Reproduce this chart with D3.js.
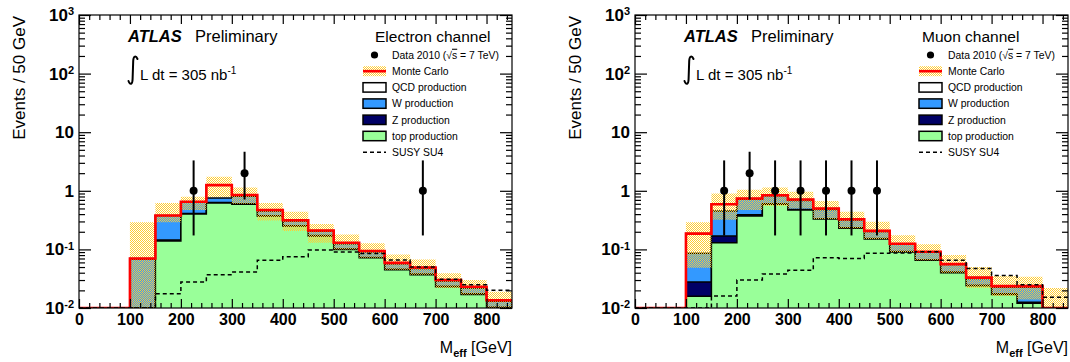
<!DOCTYPE html>
<html><head><meta charset="utf-8">
<script src="https://cdn.jsdelivr.net/npm/d3@7"></script>
<style>
body{margin:0;background:#fff}
svg{display:block}
text{font-family:"Liberation Sans",Arial,Helvetica,sans-serif;fill:#000}
</style>
</head><body>
<svg id="c" width="1070" height="362"></svg>
<script>
// ---------- data ----------
const binLow = [0,50,100,150,200,250,300,350,400,450,500,550,600,650,700,750,800];
const xMax = 850;
const xTickLabels = [0,100,200,300,400,500,600,700,800];
const yMajor = [0.01,0.1,1,10,100,1000];

// Electron channel
const eTop  = [0,0,0.004,0.139,0.40,0.62,0.59,0.37,0.25,0.17,0.10,0.072,0.045,0.037,0.023,0.017,0.010];
const eZ    = [0,0,0.001,0.005,0.01,0.01,0.01,0.005,0.004,0.003,0.002,0.001,0.001,0.001,0.0005,0.0005,0.0003];
const eW    = [0,0,0.063,0.231,0.23,0.12,0.21,0.075,0.051,0.032,0.023,0.018,0.011,0.009,0.0055,0.0045,0.0028];
const eQCD  = [0,0,0.002,0.005,0.01,0.50,0.04,0.02,0.01,0.005,0.005,0.003,0.002,0.002,0.001,0.001,0.0005];
const eBandLo = [0,0,0.005,0.29,0.47,0.78,0.60,0.31,0.206,0.13,0.10,0.072,0.045,0.037,0.022,0.017,0.009];
const eBandHi = [0,0,0.29,0.62,0.79,1.74,1.14,0.62,0.44,0.27,0.18,0.127,0.082,0.067,0.039,0.030,0.019];
const eSusy = [0,0,0.006,0.0175,0.0277,0.037,0.041,0.065,0.075,0.098,0.090,0.085,0.066,0.050,0.031,0.025,0.020];
const eDataX = [225,325,675];
const eDataY = [1,2,1];
const eDataLo = [0.827,1.29,0.827];
const eDataHi = [2.30,2.64,2.30];

// Muon channel
const mTop  = [0,0,0.0159,0.13,0.37,0.59,0.47,0.33,0.23,0.15,0.09,0.065,0.040,0.024,0.017,0.012,0.006];
const mZ    = [0,0,0.0118,0.04,0.02,0.01,0.01,0.005,0.004,0.003,0.002,0.001,0.001,0.0005,0.0005,0.0005,0.0002];
const mW    = [0,0,0.0583,0.28,0.33,0.22,0.20,0.145,0.083,0.049,0.03,0.023,0.014,0.0075,0.0051,0.0101,0.0015];
const mQCD  = [0,0,0.10,0.14,0.02,0.02,0.03,0.02,0.01,0.005,0.003,0.002,0.001,0.001,0.001,0.001,0.0003];
const mBandLo = [0,0,0.0486,0.32,0.47,0.55,0.50,0.33,0.23,0.15,0.09,0.065,0.040,0.022,0.016,0.014,0.004];
const mBandHi = [0,0,0.29,0.90,1.04,1.14,0.96,0.67,0.44,0.295,0.174,0.122,0.08,0.05,0.035,0.034,0.022];
const mSusy = [0,0,0.006,0.016,0.030,0.038,0.044,0.072,0.070,0.086,0.087,0.091,0.065,0.047,0.036,0.025,0.0153];
const mDataX = [175,225,275,325,375,425,475];
const mDataY = [1,2,1,1,1,1,1];
const mDataLo = [0.827,1.29,0.827,0.827,0.827,0.827,0.827];
const mDataHi = [2.30,2.64,2.30,2.30,2.30,2.30,2.30];

const legendLabels = ["Data 2010","Monte Carlo","QCD production","W production","Z production","top production","SUSY SU4"];
const colors = {qcd:"#ffffff", w:"#3399ff", z:"#000066", top:"#99ff99", band:"#ffcc33", mc:"#ff0000"};

// ---------- drawing ----------
const svg = d3.select("#c");
const defs = svg.append("defs");
const pat = defs.append("pattern").attr("id","hatch").attr("patternUnits","userSpaceOnUse")
  .attr("width",2).attr("height",2);
pat.append("rect").attr("x",0).attr("y",0).attr("width",1).attr("height",1).attr("fill",colors.band);
pat.append("rect").attr("x",1).attr("y",1).attr("width",1).attr("height",1).attr("fill",colors.band);

const Y0 = 15, Y1 = 308;

function drawPanel(p){
  const g = svg.append("g");
  const x = d3.scaleLinear().domain([0,xMax]).range([p.x0,p.x1]);
  const y = d3.scaleLog().domain([0.01,1000]).range([Y1,Y0]).clamp(true);
  const yv = v => y(Math.max(v,1e-5));
  const clipId = "clip"+p.id;
  defs.append("clipPath").attr("id",clipId).append("rect")
    .attr("x",p.x0).attr("y",Y0).attr("width",p.x1-p.x0).attr("height",Y1-Y0);
  const pg = g.append("g").attr("clip-path",`url(#${clipId})`);
  const steps = arr => binLow.map((b,i)=>[b,arr[i]]).concat([[xMax,arr[arr.length-1]]]);

  const c1 = p.top;
  const c2 = c1.map((v,i)=>v+p.z[i]);
  const c3 = c2.map((v,i)=>v+p.w[i]);
  const c4 = c3.map((v,i)=>v+p.qcd[i]);

  const area = d3.area().curve(d3.curveStepAfter).x(d=>x(d[0])).y0(Y1+3).y1(d=>yv(d[1]));
  [[c4,colors.qcd],[c3,colors.w],[c2,colors.z],[c1,colors.top]].forEach(([c,col])=>{
    pg.append("path").datum(steps(c)).attr("d",area).attr("fill",col)
      .attr("stroke","#000").attr("stroke-width",1.5);
  });

  const band = d3.area().curve(d3.curveStepAfter).x(d=>x(d[0])).y0(d=>yv(d[1])).y1(d=>yv(d[2]));
  const bd = binLow.map((b,i)=>[b,p.lo[i],p.hi[i]]).concat([[xMax,p.lo[p.lo.length-1],p.hi[p.hi.length-1]]]);
  pg.append("path").datum(bd).attr("d",band).attr("fill","url(#hatch)");

  const line = d3.line().curve(d3.curveStepAfter).x(d=>x(d[0])).y(d=>yv(d[1]));
  pg.append("path").datum(steps(c4)).attr("d",line).attr("fill","none")
    .attr("stroke",colors.mc).attr("stroke-width",2.6);
  pg.append("path").datum(steps(p.susy)).attr("d",line).attr("fill","none")
    .attr("stroke","#000").attr("stroke-width",1.5).attr("stroke-dasharray","4,3");

  // data
  const dg = g.append("g");
  p.dx.forEach((dx,i)=>{
    dg.append("line").attr("x1",x(dx)).attr("x2",x(dx))
      .attr("y1",yv(p.dy[i]-p.dlo[i])).attr("y2",yv(p.dy[i]+p.dhi[i]))
      .attr("stroke","#000").attr("stroke-width",2);
    dg.append("circle").attr("cx",x(dx)).attr("cy",yv(p.dy[i])).attr("r",4).attr("fill","#000");
  });

  // frame
  g.append("rect").attr("x",p.x0).attr("y",Y0).attr("width",p.x1-p.x0).attr("height",Y1-Y0)
    .attr("fill","none").attr("stroke","#000").attr("stroke-width",1.2);

  // axes
  const minorX = d3.range(0,xMax+1,20).filter(v=>v%100!==0);
  const styleAx = sel => { sel.select(".domain").remove(); sel.selectAll(".tick line").attr("stroke-width",1.2); };
  const xb = g.append("g").attr("transform",`translate(0,${Y1})`)
    .call(d3.axisBottom(x).tickValues(xTickLabels).tickSize(-9).tickPadding(6).tickFormat(d3.format("d")));
  styleAx(xb);
  xb.selectAll(".tick text").attr("font-size","16px").attr("font-weight","bold")
    .attr("font-family","'Liberation Sans',Arial,sans-serif");
  g.append("g").attr("transform",`translate(0,${Y1})`)
    .call(d3.axisBottom(x).tickValues(minorX).tickSize(-5).tickFormat("")).call(styleAx);
  g.append("g").attr("transform",`translate(0,${Y0})`)
    .call(d3.axisTop(x).tickValues(xTickLabels).tickSize(-9).tickFormat("")).call(styleAx);
  g.append("g").attr("transform",`translate(0,${Y0})`)
    .call(d3.axisTop(x).tickValues(minorX).tickSize(-5).tickFormat("")).call(styleAx);

  const minorY = [];
  yMajor.slice(0,-1).forEach(d=>{ for(let k=2;k<=9;k++) minorY.push(d*k); });
  const yl = g.append("g").attr("transform",`translate(${p.x0},0)`)
    .call(d3.axisLeft(y).tickValues(yMajor).tickSize(-12).tickPadding(5));
  styleAx(yl);
  yl.selectAll(".tick text").each(function(d){
    const t = d3.select(this);
    t.text(null).attr("font-size","17px").attr("font-weight","bold")
      .attr("font-family","'Liberation Sans',Arial,sans-serif");
    const e = Math.round(Math.log10(d));
    if(e===0) t.text("1");
    else if(e===1) t.text("10");
    else {
      t.append("tspan").text("10");
      t.append("tspan").attr("dy","-0.5em").attr("font-size","11px").text(String(e));
    }
  });
  g.append("g").attr("transform",`translate(${p.x0},0)`)
    .call(d3.axisLeft(y).tickValues(minorY).tickSize(-6).tickFormat("")).call(styleAx);
  g.append("g").attr("transform",`translate(${p.x1},0)`)
    .call(d3.axisRight(y).tickValues(yMajor).tickSize(-12).tickFormat("")).call(styleAx);
  g.append("g").attr("transform",`translate(${p.x1},0)`)
    .call(d3.axisRight(y).tickValues(minorY).tickSize(-6).tickFormat("")).call(styleAx);

  // titles
  g.append("text").attr("transform",`translate(${p.x0-54},${Y0+1}) rotate(-90)`)
    .attr("text-anchor","end").attr("font-size","17px").text("Events / 50 GeV");
  const xt = g.append("text").attr("x",p.x1).attr("y",353).attr("text-anchor","end").attr("font-size","16px");
  xt.append("tspan").text("M");
  xt.append("tspan").attr("dy",4).attr("font-size","11px").attr("font-weight","bold").text("eff");
  xt.append("tspan").attr("dy",-4).text(" [GeV]");

  // ATLAS label
  const ax0 = p.x0 + 49;
  g.append("text").attr("x",ax0).attr("y",42).attr("font-size","16.5px")
    .attr("font-weight","bold").attr("font-style","italic").text("ATLAS");
  g.append("text").attr("x",ax0+67).attr("y",42).attr("font-size","16.5px").text("Preliminary");
  g.append("path")
    .attr("d",`M${ax0+0.5},81 C${ax0+2},85.5 ${ax0+4.5},84.5 ${ax0+4.6},79 L${ax0+5.2},61 C${ax0+5.4},55.5 ${ax0+8},55.5 ${ax0+9.5},59`)
    .attr("fill","none").attr("stroke","#000").attr("stroke-width",2).attr("stroke-linecap","round");
  const lt = g.append("text").attr("x",ax0+12).attr("y",80).attr("font-size","15px");
  lt.append("tspan").text("L dt = 305 nb");
  lt.append("tspan").attr("dy",-6).attr("font-size","10px").text("-1");

  // legend
  const lx = p.x0 + 284;
  g.append("text").attr("x",p.hx).attr("y",42).attr("font-size","15.5px").text(p.header);
  const rowY = i => 55 + i*16.2;
  const tx = lx + 29;
  legendLabels.forEach((lab,i)=>{
    const ty = rowY(i);
    const t = g.append("text").attr("x",tx).attr("y",ty).attr("dy","0.36em").attr("font-size","10.4px");
    if(i===0){
      t.append("tspan").text("Data 2010 (√");
      t.append("tspan").attr("text-decoration","overline").text("s");
      t.append("tspan").text(" = 7 TeV)");
    } else t.text(lab);
  });
  g.append("circle").attr("cx",lx+11.5).attr("cy",rowY(0)).attr("r",3.6).attr("fill","#000");
  g.append("rect").attr("x",lx).attr("y",rowY(1)-5).attr("width",23).attr("height",10).attr("fill","url(#hatch)");
  g.append("line").attr("x1",lx).attr("x2",lx+23).attr("y1",rowY(1)).attr("y2",rowY(1))
    .attr("stroke",colors.mc).attr("stroke-width",2.6);
  [colors.qcd,colors.w,colors.z,colors.top].forEach((col,k)=>{
    g.append("rect").attr("x",lx).attr("y",rowY(k+2)-4.7).attr("width",23).attr("height",9.4)
      .attr("fill",col).attr("stroke","#000").attr("stroke-width",1.5);
  });
  g.append("line").attr("x1",lx).attr("x2",lx+23).attr("y1",rowY(6)).attr("y2",rowY(6))
    .attr("stroke","#000").attr("stroke-width",1.5).attr("stroke-dasharray","4,3");
}

drawPanel({id:"e", x0:79, x1:512, header:"Electron channel", hx:375,
  top:eTop, z:eZ, w:eW, qcd:eQCD, lo:eBandLo, hi:eBandHi, susy:eSusy,
  dx:eDataX, dy:eDataY, dlo:eDataLo, dhi:eDataHi});
drawPanel({id:"m", x0:635, x1:1068, header:"Muon channel", hx:922,
  top:mTop, z:mZ, w:mW, qcd:mQCD, lo:mBandLo, hi:mBandHi, susy:mSusy,
  dx:mDataX, dy:mDataY, dlo:mDataLo, dhi:mDataHi});
</script>
</body></html>
